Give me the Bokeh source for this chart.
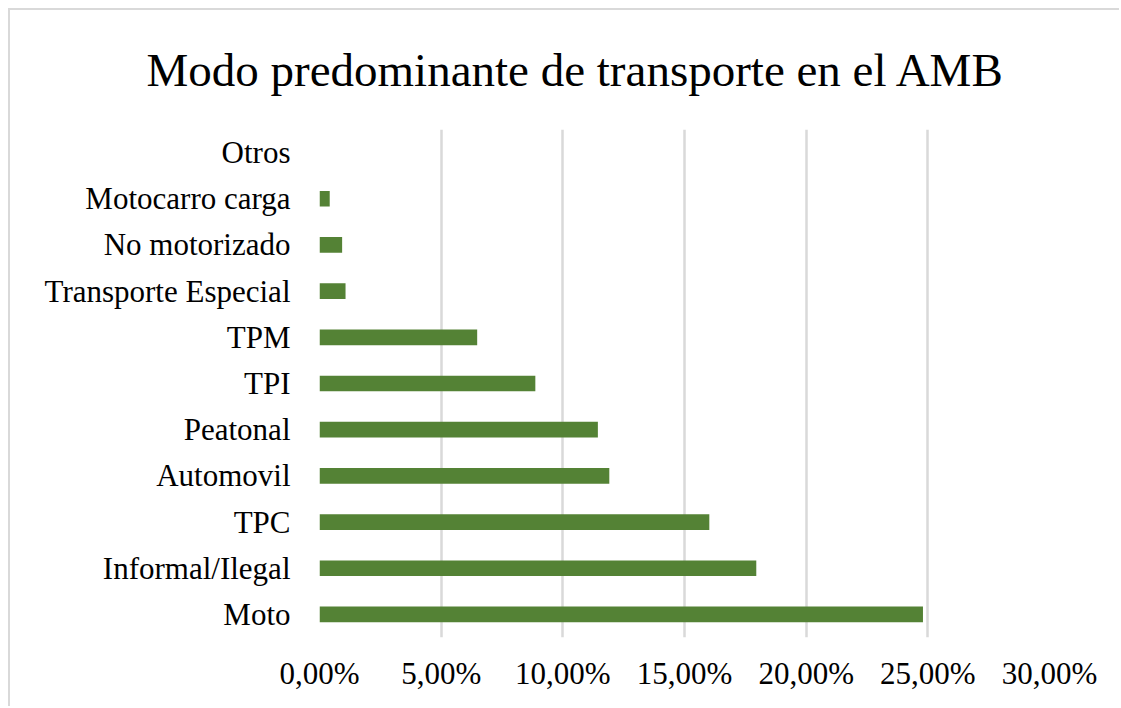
from bokeh.plotting import figure
from bokeh.models import FactorRange, Range1d, CustomJSTickFormatter, FixedTicker, Title
from bokeh.embed import file_html
from bokeh.resources import INLINE

categories = ["Moto", "Informal/Ilegal", "TPC", "Automovil", "Peatonal", "TPI", "TPM",
              "Transporte Especial", "No motorizado", "Motocarro carga", "Otros"]
values = [0.2480, 0.1795, 0.1602, 0.1191, 0.1144, 0.0887, 0.0648, 0.0107, 0.0093, 0.0042, 0.0]
tick_values = [0.0, 0.05, 0.10, 0.15, 0.20, 0.25, 0.30]
title_text = "Modo predominante de transporte en el AMB"

FONT = "Liberation Serif"

p = figure(width=1111, height=698, output_backend="svg", toolbar_location=None,
           y_range=FactorRange(factors=categories), x_range=Range1d(0, 0.30),
           min_border_left=309, min_border_right=72, min_border_top=119, min_border_bottom=71)
p.title = Title(text=title_text, align="left", offset=-173, text_font=FONT,
                text_font_size="47px", text_font_style="normal", text_color="#000000",
                standoff=64, vertical_align="top", text_line_height=0.6)

p.hbar(y=categories, right=values, left=0, height=0.34, fill_color="#548235",
       line_color=None)

p.outline_line_color = None
p.background_fill_color = "white"
p.border_fill_color = "white"
p.styles = {"margin-left": "8px", "margin-top": "8px",
            "border-left": "2px solid #d9d9d9", "border-top": "2px solid #d9d9d9"}

p.xaxis.ticker = FixedTicker(ticks=tick_values)
p.xaxis.formatter = CustomJSTickFormatter(code="return (tick*100).toFixed(2).replace('.', ',') + '%';")
p.xaxis.axis_line_color = None
p.xaxis.major_tick_line_color = None
p.xaxis.minor_tick_line_color = None
p.xaxis.major_label_text_font = FONT
p.xaxis.major_label_text_font_size = "31px"
p.xaxis.major_label_text_color = "#000000"
p.xaxis.major_label_standoff = 12

p.yaxis.axis_line_color = None
p.yaxis.major_tick_line_color = None
p.yaxis.minor_tick_line_color = None
p.yaxis.major_label_text_font = FONT
p.yaxis.major_label_text_font_size = "31px"
p.yaxis.major_label_text_color = "#000000"
p.yaxis.major_label_standoff = 23

p.xgrid.grid_line_color = "#d9d9d9"
p.xgrid.grid_line_width = 2.5
p.ygrid.grid_line_color = None

open("out.html", "w").write(file_html(p, INLINE))
